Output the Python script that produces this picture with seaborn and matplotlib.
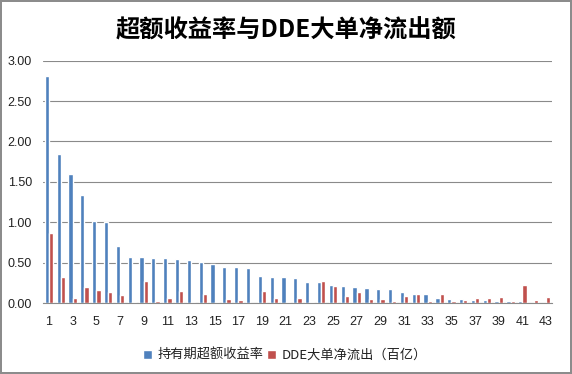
import matplotlib
matplotlib.use("Agg")
import matplotlib.pyplot as plt
import seaborn as sns
import pandas as pd

categories = [str(i) for i in range(1, 44)]
excess_return = [2.81, 1.85, 1.60, 1.34, 1.02, 1.00, 0.71, 0.57, 0.57, 0.56,
                 0.56, 0.55, 0.54, 0.51, 0.49, 0.45, 0.45, 0.44, 0.34, 0.33,
                 0.33, 0.31, 0.26, 0.26, 0.23, 0.21, 0.20, 0.19, 0.18, 0.18,
                 0.14, 0.12, 0.12, 0.07, 0.05, 0.05, 0.04, 0.04, 0.03, 0.03,
                 0.03, 0.01, 0.01]
dde_outflow = [0.87, 0.33, 0.07, 0.20, 0.16, 0.14, 0.10, 0.02, 0.28, 0.03,
               0.06, 0.15, 0.02, 0.12, 0.02, 0.05, 0.04, 0.01, 0.15, 0.07,
               0.02, 0.07, 0.02, 0.28, 0.21, 0.09, 0.14, 0.05, 0.05, 0.03,
               0.09, 0.12, 0.03, 0.12, 0.03, 0.04, 0.07, 0.07, 0.08, 0.03,
               0.23, 0.04, 0.08]
series_names = ["持有期超额收益率", "DDE大单净流出（百亿）"]
tick_labels = [str(i) for i in range(1, 44, 2)]
y_ticks = [0.0, 0.5, 1.0, 1.5, 2.0, 2.5, 3.0]

df = pd.DataFrame({
    "cat": categories * 2,
    "value": excess_return + dde_outflow,
    "series": [series_names[0]] * len(categories) + [series_names[1]] * len(categories),
})

sns.set_theme(style="white")
plt.rcParams['font.family'] = ['Noto Sans CJK SC', 'DejaVu Sans']

fig = plt.figure(figsize=(5.72, 3.74), dpi=100)
fig.patch.set_edgecolor('#8c8c8c')
fig.patch.set_linewidth(1.5)
ax = fig.add_axes([0.0752, 0.189, 0.8898, 0.649])

sns.barplot(data=df, x="cat", y="value", hue="series", order=categories,
            hue_order=series_names, palette=["#4F81BD", "#C0504D"],
            width=0.72, dodge=True, ax=ax, legend=True, saturation=1)

ax.set_ylim(0, 3.0)
ax.set_xlim(-0.5, len(categories) - 0.5)
ax.set_yticks(y_ticks)
ax.set_yticklabels([f"{v:.2f}" for v in y_ticks], fontsize=9, family=['Liberation Sans'])
ax.set_xticks(list(range(0, 43, 2)))
ax.set_xticklabels(tick_labels, fontsize=9, family=['Liberation Sans'])
ax.tick_params(axis='y', length=0, pad=8, colors='#222222')
ax.tick_params(axis='x', length=0, pad=9, colors='#222222')
ax.yaxis.grid(True, color='#8a8a8a', linewidth=0.8)
ax.set_axisbelow(True)
for s in ['top', 'right', 'left']:
    ax.spines[s].set_visible(False)
ax.spines['bottom'].set_color('#8a8a8a')
ax.spines['bottom'].set_linewidth(0.8)
ax.set_xlabel("")
ax.set_ylabel("")

fig.text(0.5, 0.918, "超额收益率与DDE大单净流出额", ha='center', va='center',
         fontsize=17.5, fontweight='bold', color='#000000')

leg = ax.legend(loc='center', bbox_to_anchor=(0.475, -0.215), ncol=2, frameon=False,
                fontsize=9.5, handlelength=0.7, handleheight=0.7, handletextpad=0.4,
                columnspacing=0.3)
for t in leg.get_texts():
    t.set_color('#222222')

fig.savefig("out.png", dpi=100)
